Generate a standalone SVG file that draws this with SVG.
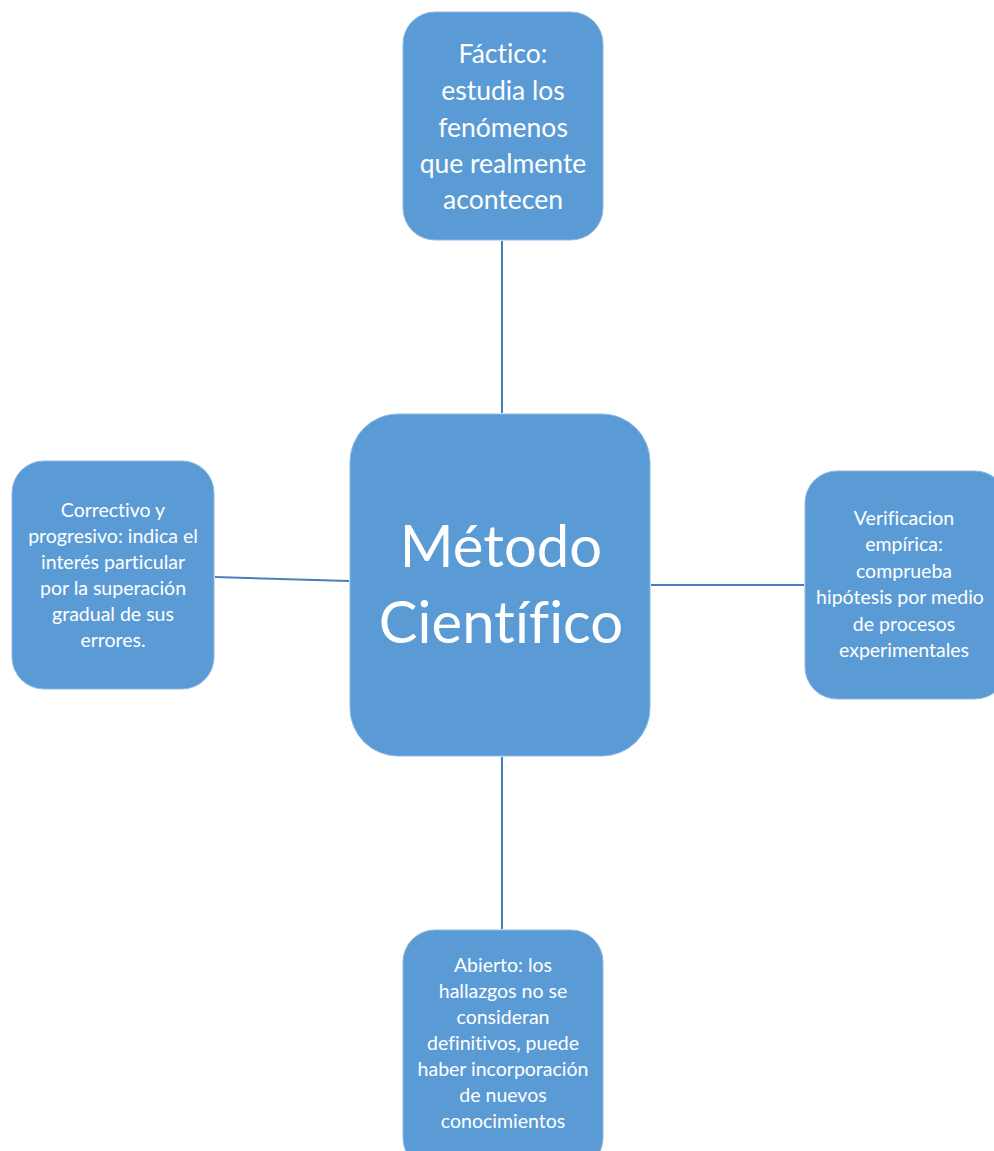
<svg xmlns="http://www.w3.org/2000/svg" width="994" height="1151" viewBox="0 0 994 1151">
<style>
.node{fill:#5B9BD5;stroke:#8DB8E2;stroke-width:1}
.t{fill:#fff;font-family:Lato,"Open Sans","Liberation Sans",sans-serif;text-anchor:middle;font-variant-ligatures:none}
.s{font-size:19.5px}
.m{font-size:26.5px}
.big{font-size:58px}
.c{stroke:#4A7EBB;stroke-width:2;fill:none}
</style>
<rect width="994" height="1151" fill="#fff"/>
<g id="connectors">
<line class="c" x1="502" y1="241" x2="502" y2="413"/>
<line class="c" x1="215" y1="577" x2="349" y2="581"/>
<line class="c" x1="651" y1="585" x2="804" y2="585"/>
<line class="c" x1="502" y1="757" x2="502" y2="929"/>
</g>
<g id="n-top">
<rect class="node" x="403" y="12" width="200" height="228" rx="32"/>
<text class="t m"><tspan x="503" y="63">Fáctico:</tspan><tspan x="503" y="100">estudia los</tspan><tspan x="503" y="137">fenómenos</tspan><tspan x="503" y="173">que realmente</tspan><tspan x="503" y="209">acontecen</tspan></text>
</g>
<g id="n-center">
<rect class="node" x="350" y="414" width="300" height="342" rx="48"/>
<text class="t big"><tspan x="501" y="567">Método</tspan><tspan x="501" y="643">Científico</tspan></text>
</g>
<g id="n-left">
<rect class="node" x="12" y="461" width="202" height="228" rx="32"/>
<text class="t s"><tspan x="113" y="517">Correctivo y</tspan><tspan x="113" y="543">progresivo: indica el</tspan><tspan x="113" y="569">interés particular</tspan><tspan x="113" y="595">por la superación</tspan><tspan x="113" y="621">gradual de sus</tspan><tspan x="113" y="647">errores.</tspan></text>
</g>
<g id="n-right">
<rect class="node" x="805" y="471" width="202" height="228" rx="32"/>
<text class="t s"><tspan x="904" y="525">Verificacion</tspan><tspan x="904" y="551">empírica:</tspan><tspan x="904" y="578">comprueba</tspan><tspan x="900" y="604">hipótesis por medio</tspan><tspan x="904" y="631">de procesos</tspan><tspan x="904" y="657">experimentales</tspan></text>
</g>
<g id="n-bottom">
<rect class="node" x="403" y="930" width="200" height="240" rx="32"/>
<text class="t s"><tspan x="503" y="972">Abierto: los</tspan><tspan x="503" y="998">hallazgos no se</tspan><tspan x="503" y="1024">consideran</tspan><tspan x="503" y="1050">definitivos, puede</tspan><tspan x="503" y="1076">haber incorporación</tspan><tspan x="503" y="1102">de nuevos</tspan><tspan x="503" y="1128">conocimientos</tspan></text>
</g>
</svg>
